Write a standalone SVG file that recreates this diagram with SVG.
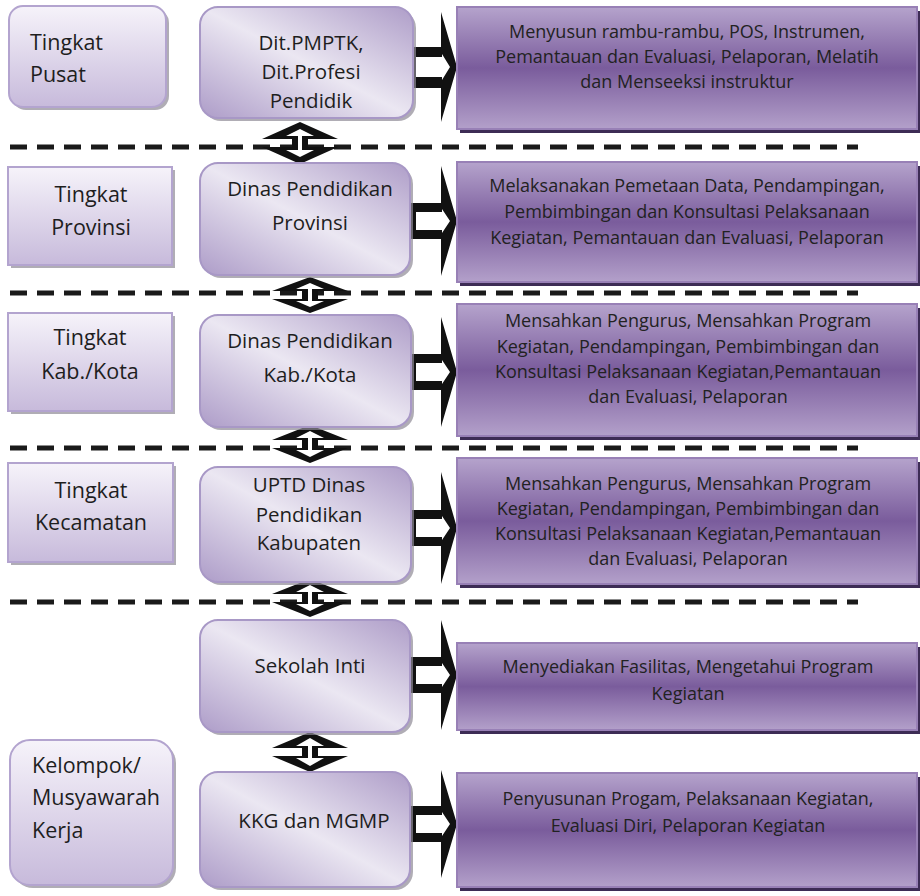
<svg xmlns="http://www.w3.org/2000/svg" width="920" height="896" viewBox="0 0 920 896">
  <defs>
    <linearGradient id="gLevel" x1="0" y1="0" x2="0" y2="1">
      <stop offset="0" stop-color="#f6f3fa"/>
      <stop offset="1" stop-color="#c7badb"/>
    </linearGradient>
    <linearGradient id="gUnit" x1="1" y1="0" x2="0" y2="1">
      <stop offset="0" stop-color="#ae9dc8"/>
      <stop offset="0.5" stop-color="#ebe7f2"/>
      <stop offset="1" stop-color="#ad9cc8"/>
    </linearGradient>
    <linearGradient id="gTask" x1="0" y1="0" x2="0" y2="1">
      <stop offset="0" stop-color="#b5a3cc"/>
      <stop offset="0.5" stop-color="#7a5c9c"/>
      <stop offset="1" stop-color="#b3a0ca"/>
    </linearGradient>
  </defs>
  <style>
    .lvl{fill:url(#gLevel);stroke:#b3a4cf;stroke-width:2}
    .unit{fill:url(#gUnit);stroke:#a898c6;stroke-width:2}
    .task{fill:url(#gTask);stroke:#9880b6;stroke-width:2}
    .sh{fill:#8f8a96;opacity:0.7}
    .tsh{fill:#3d2c55}
    text{font-family:"Open Sans","Liberation Sans",sans-serif;fill:#1e1e1e}
    .tl{font-size:21.5px}
    .tc{font-size:21.5px;text-anchor:middle}
    .tu{font-size:20.5px;text-anchor:middle}
    .tt{font-size:18px;text-anchor:middle;fill:#222}
    .dash{fill:none;stroke:#1a1a1a;stroke-width:5;stroke-dasharray:17 10}
    .ahead{fill:#111}
    .ain{fill:#fff}
  </style>

  <!-- level separators -->
  <g id="separators">
    <line class="dash" x1="10" y1="147" x2="858" y2="147"/>
    <line class="dash" x1="10" y1="293" x2="858" y2="293"/>
    <line class="dash" x1="10" y1="448" x2="858" y2="448"/>
    <line class="dash" x1="10" y1="602" x2="858" y2="602"/>
  </g>

  <!-- level labels -->
  <g id="lvl-pusat">
    <rect class="sh" x="12" y="9" width="157" height="101" rx="14"/>
    <rect class="lvl" x="9" y="6" width="157" height="101" rx="14"/>
    <text class="tl" x="30" y="50">Tingkat</text>
    <text class="tl" x="30" y="82">Pusat</text>
  </g>
  <g id="lvl-provinsi">
    <rect class="sh" x="11" y="170" width="164" height="98"/>
    <rect class="lvl" x="8" y="167" width="164" height="98"/>
    <text class="tc" x="91" y="202">Tingkat</text>
    <text class="tc" x="91" y="235">Provinsi</text>
  </g>
  <g id="lvl-kabkota">
    <rect class="sh" x="11" y="316" width="164" height="98"/>
    <rect class="lvl" x="8" y="313" width="164" height="98"/>
    <text class="tc" x="90" y="345">Tingkat</text>
    <text class="tc" x="90" y="379">Kab./Kota</text>
  </g>
  <g id="lvl-kecamatan">
    <rect class="sh" x="11" y="466" width="165" height="99"/>
    <rect class="lvl" x="8" y="463" width="165" height="99"/>
    <text class="tc" x="91" y="498">Tingkat</text>
    <text class="tc" x="91" y="530">Kecamatan</text>
  </g>
  <g id="lvl-kelompok">
    <rect class="sh" x="13" y="743" width="163" height="145" rx="20"/>
    <rect class="lvl" x="10" y="740" width="163" height="145" rx="20"/>
    <text class="tl" x="32" y="773">Kelompok/</text>
    <text class="tl" x="32" y="805">Musyawarah</text>
    <text class="tl" x="32" y="838">Kerja</text>
  </g>

  <!-- connectors -->
  <g id="connectors">
    <!-- right block arrows: unit to task -->
    <g id="arrows-right">
      <path class="ahead" d="M410,47 H441 V12 L457,67 L441,122 V88 H410 Z"/>
      <path class="ain" d="M416,57 H442 V54 L450,67 L442,80 V77 H416 Z"/>

      <path class="ahead" d="M410,203 H441 V166 L457,221 L441,276 V239 H410 Z"/>
      <path class="ain" d="M416,212 H442 V209 L450,221 L442,233 V230 H416 Z"/>

      <path class="ahead" d="M410,354 H441 V317 L457,372 L441,427 V390 H410 Z"/>
      <path class="ain" d="M416,363 H442 V360 L450,372 L442,384 V381 H416 Z"/>

      <path class="ahead" d="M410,510 H441 V472 L457,528 L441,584 V546 H410 Z"/>
      <path class="ain" d="M416,519 H442 V516 L450,528 L442,540 V537 H416 Z"/>

      <path class="ahead" d="M410,657 H441 V620 L457,675 L441,730 V693 H410 Z"/>
      <path class="ain" d="M416,666 H442 V663 L450,675 L442,687 V684 H416 Z"/>

      <path class="ahead" d="M410,806 H441 V770 L457,824 L441,878 V842 H410 Z"/>
      <path class="ain" d="M416,815 H442 V812 L450,824 L442,836 V833 H416 Z"/>
    </g>
    <!-- up-down arrows between units -->
    <g id="arrows-updown">
      <path class="ahead" d="M300,122 L338,139 H308 V147 H338 L300,164 L262,147 H292 V139 H262 Z"/>
      <path class="ain" d="M300,129 L314,136 H302 V150 H314 L300,157 L286,150 H298 V136 H286 Z"/>

      <path class="ahead" d="M310,277 L348,291 H318 V299 H348 L310,313 L272,299 H302 V291 H272 Z"/>
      <path class="ain" d="M310,283 L324,289 H312 V301 H324 L310,307 L296,301 H308 V289 H296 Z"/>

      <path class="ahead" d="M310,425 L348,440 H318 V448 H348 L310,463 L272,448 H302 V440 H272 Z"/>
      <path class="ain" d="M310,431 L324,438 H312 V450 H324 L310,457 L296,450 H308 V438 H296 Z"/>

      <path class="ahead" d="M310,579 L348,594 H318 V602 H348 L310,617 L272,602 H302 V594 H272 Z"/>
      <path class="ain" d="M310,585 L324,592 H312 V604 H324 L310,611 L296,604 H308 V592 H296 Z"/>

      <path class="ahead" d="M310,732 L348,748 H318 V756 H348 L310,772 L272,756 H302 V748 H272 Z"/>
      <path class="ain" d="M310,738 L324,746 H312 V758 H324 L310,766 L296,758 H308 V746 H296 Z"/>
    </g>
  </g>

  <!-- organising units -->
  <g id="unit-pusat">
    <rect class="sh" x="203" y="10" width="213" height="111" rx="18"/>
    <rect class="unit" x="200" y="7" width="213" height="111" rx="18"/>
    <text class="tu" x="311" y="50">Dit.PMPTK,</text>
    <text class="tu" x="311" y="79">Dit.Profesi</text>
    <text class="tu" x="311" y="108">Pendidik</text>
  </g>
  <g id="unit-provinsi">
    <rect class="sh" x="203" y="166" width="210" height="112" rx="18"/>
    <rect class="unit" x="200" y="163" width="210" height="112" rx="18"/>
    <text class="tu" x="310" y="196">Dinas Pendidikan</text>
    <text class="tu" x="310" y="230">Provinsi</text>
  </g>
  <g id="unit-kabkota">
    <rect class="sh" x="203" y="318" width="211" height="112" rx="18"/>
    <rect class="unit" x="200" y="315" width="211" height="112" rx="18"/>
    <text class="tu" x="310" y="348">Dinas Pendidikan</text>
    <text class="tu" x="310" y="382">Kab./Kota</text>
  </g>
  <g id="unit-uptd">
    <rect class="sh" x="203" y="470" width="211" height="115" rx="18"/>
    <rect class="unit" x="200" y="467" width="211" height="115" rx="18"/>
    <text class="tu" x="309" y="492">UPTD Dinas</text>
    <text class="tu" x="309" y="522">Pendidikan</text>
    <text class="tu" x="309" y="550">Kabupaten</text>
  </g>
  <g id="unit-sekolah">
    <rect class="sh" x="203" y="623" width="210" height="112" rx="18"/>
    <rect class="unit" x="200" y="620" width="210" height="112" rx="18"/>
    <text class="tu" x="310" y="673">Sekolah Inti</text>
  </g>
  <g id="unit-kkg">
    <rect class="sh" x="203" y="775" width="210" height="115" rx="18"/>
    <rect class="unit" x="200" y="772" width="210" height="115" rx="18"/>
    <text class="tu" x="314" y="828">KKG dan MGMP</text>
  </g>

  <!-- tasks -->
  <g id="task-pusat">
    <rect class="tsh" x="460" y="11" width="460" height="122"/>
    <rect class="task" x="457" y="7" width="460" height="122"/>
    <text class="tt" x="687" y="38">Menyusun rambu-rambu, POS, Instrumen,</text>
    <text class="tt" x="687" y="63">Pemantauan dan Evaluasi, Pelaporan, Melatih</text>
    <text class="tt" x="687" y="88">dan Menseeksi instruktur</text>
  </g>
  <g id="task-provinsi">
    <rect class="tsh" x="460" y="166" width="460" height="120"/>
    <rect class="task" x="457" y="162" width="460" height="120"/>
    <text class="tt" x="687" y="192">Melaksanakan Pemetaan Data, Pendampingan,</text>
    <text class="tt" x="687" y="218">Pembimbingan dan Konsultasi Pelaksanaan</text>
    <text class="tt" x="687" y="244">Kegiatan, Pemantauan dan Evaluasi, Pelaporan</text>
  </g>
  <g id="task-kabkota">
    <rect class="tsh" x="460" y="308" width="460" height="132"/>
    <rect class="task" x="457" y="304" width="460" height="132"/>
    <text class="tt" x="688" y="327">Mensahkan Pengurus, Mensahkan Program</text>
    <text class="tt" x="688" y="353">Kegiatan, Pendampingan, Pembimbingan dan</text>
    <text class="tt" x="688" y="378">Konsultasi Pelaksanaan Kegiatan,Pemantauan</text>
    <text class="tt" x="688" y="403">dan Evaluasi, Pelaporan</text>
  </g>
  <g id="task-kecamatan">
    <rect class="tsh" x="460" y="462" width="460" height="126"/>
    <rect class="task" x="457" y="458" width="460" height="126"/>
    <text class="tt" x="688" y="490">Mensahkan Pengurus, Mensahkan Program</text>
    <text class="tt" x="688" y="515">Kegiatan, Pendampingan, Pembimbingan dan</text>
    <text class="tt" x="688" y="540">Konsultasi Pelaksanaan Kegiatan,Pemantauan</text>
    <text class="tt" x="688" y="565">dan Evaluasi, Pelaporan</text>
  </g>
  <g id="task-sekolah">
    <rect class="tsh" x="460" y="647" width="460" height="87"/>
    <rect class="task" x="457" y="643" width="460" height="87"/>
    <text class="tt" x="688" y="673">Menyediakan Fasilitas, Mengetahui Program</text>
    <text class="tt" x="688" y="700">Kegiatan</text>
  </g>
  <g id="task-kkg">
    <rect class="tsh" x="460" y="777" width="460" height="114"/>
    <rect class="task" x="457" y="773" width="460" height="114"/>
    <text class="tt" x="688" y="805">Penyusunan Progam, Pelaksanaan Kegiatan,</text>
    <text class="tt" x="688" y="832">Evaluasi Diri, Pelaporan Kegiatan</text>
  </g>
</svg>
